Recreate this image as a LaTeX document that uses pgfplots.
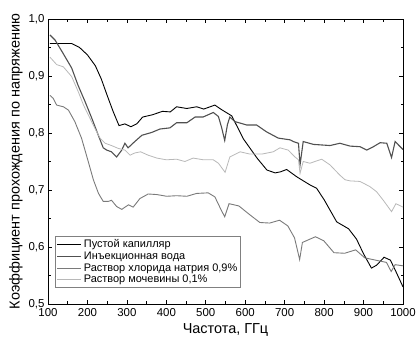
\documentclass[border=0pt]{standalone}
\usepackage{fontspec}
\setmainfont{Liberation Sans}
\usepackage{pgfplots}
\pgfplotsset{compat=1.18}
\definecolor{cdark}{HTML}{505050}
\definecolor{cmid}{HTML}{7A7A7A}
\definecolor{clight}{HTML}{B8B8B8}
\begin{document}
\begin{tikzpicture}
\useasboundingbox (-48bp,-40bp) rectangle (370bp,304bp);
\begin{axis}[
  scale only axis,
  width=355bp, height=285bp,
  xmin=100, xmax=1000, ymin=0.5, ymax=1.0,
  xtick={100,200,...,1000},
  minor xtick={150,250,...,950},
  ytick={0.5,0.6,...,1.01},
  minor ytick={0.55,0.65,...,0.96},
  tick align=inside,
  major tick length=4bp, minor tick length=2.5bp,
  tick style={black, line width=0.6pt},
  axis line style={line width=0.7pt},
  /pgf/number format/assume math mode=true,
  yticklabel style={/pgf/number format/.cd, use comma, fixed, fixed zerofill, precision=1},
  xticklabel style={yshift=-1bp, /pgf/number format/.cd, fixed, 1000 sep={}},
  ticklabel style={font=\fontsize{11.5}{13}\selectfont},
  xlabel={Частота, ГГц},
  ylabel={Коэффициент прохождения по напряжению},
  label style={font=\fontsize{14.5}{16}\selectfont},
  ylabel style={yshift=-1bp},
  legend style={at={(0.0197,0.056)}, anchor=south west, draw=gray, line width=0.6pt,
    font=\fontsize{11}{12}\selectfont, row sep=-1.5bp, inner sep=1.5bp},
  legend cell align=left,
  legend image code/.code={\draw[#1] (0bp,0bp) -- (24bp,0bp);},
]
\addplot[black, line width=0.9pt] coordinates {
(105,0.957) (160,0.957) (180,0.950) (200,0.937) (220,0.918) (235,0.895) (250,0.866) (265,0.838) (280,0.813) (295,0.816) (310,0.811) (325,0.816) (340,0.828) (365,0.832) (390,0.838) (410,0.837) (426,0.846) (452,0.843) (477,0.846) (495,0.842) (523,0.849) (540,0.841) (566,0.830) (595,0.790) (630,0.756) (655,0.735) (676,0.730) (690,0.732) (705,0.736) (731,0.723) (764,0.709) (781,0.703) (800,0.683) (832,0.644) (862,0.632) (882,0.614) (900,0.588) (920,0.563) (933,0.568) (952,0.582) (968,0.577) (982,0.557) (1000,0.530)
};
\addlegendentry{Пустой капилляр}
\addplot[cdark, line width=1.1pt] coordinates {
(105,0.972) (118,0.963) (138,0.940) (160,0.914) (176,0.884) (194,0.855) (211,0.826) (227,0.797) (240,0.774) (249,0.770) (261,0.767) (274,0.758) (287,0.770) (295,0.782) (303,0.774) (320,0.785) (338,0.796) (363,0.801) (384,0.807) (409,0.809) (426,0.818) (452,0.818) (473,0.828) (493,0.828) (519,0.836) (532,0.829) (540,0.810) (548,0.787) (555,0.815) (561,0.828) (574,0.820) (604,0.814) (629,0.814) (654,0.802) (684,0.791) (714,0.788) (722,0.785) (735,0.782) (739,0.744) (747,0.785) (773,0.780) (815,0.778) (840,0.782) (866,0.777) (891,0.776) (908,0.770) (925,0.776) (942,0.783) (959,0.782) (971,0.757) (980,0.785) (1000,0.771)
};
\addlegendentry{Инъекционная вода}
\addplot[cmid, line width=0.9pt] coordinates {
(105,0.866) (113,0.861) (122,0.849) (139,0.846) (152,0.840) (168,0.820) (185,0.791) (202,0.750) (215,0.718) (228,0.694) (240,0.680) (253,0.680) (261,0.682) (274,0.671) (287,0.666) (304,0.674) (316,0.670) (333,0.685) (354,0.693) (376,0.692) (401,0.689) (426,0.690) (452,0.689) (477,0.694) (506,0.695) (523,0.688) (539,0.665) (548,0.653) (559,0.676) (584,0.672) (609,0.658) (637,0.643) (662,0.642) (687,0.647) (708,0.637) (725,0.616) (738,0.578) (745,0.608) (778,0.618) (799,0.611) (825,0.590) (852,0.589) (880,0.595) (903,0.581) (930,0.577) (958,0.573) (970,0.557) (980,0.569) (1000,0.567)
};
\addlegendentry{Раствор хлорида натрия 0,9\%}
\addplot[clight, line width=0.8pt] coordinates {
(105,0.933) (122,0.920) (139,0.916) (160,0.899) (177,0.872) (190,0.849) (202,0.832) (219,0.808) (232,0.791) (245,0.782) (261,0.778) (278,0.773) (295,0.770) (308,0.761) (320,0.765) (335,0.767) (354,0.761) (376,0.756) (400,0.753) (426,0.754) (447,0.750) (468,0.756) (494,0.753) (519,0.753) (532,0.747) (549,0.731) (561,0.758) (587,0.767) (612,0.763) (642,0.763) (671,0.767) (688,0.774) (709,0.770) (726,0.758) (735,0.753) (739,0.729) (747,0.750) (764,0.747) (794,0.754) (815,0.744) (840,0.726) (853,0.718) (866,0.716) (891,0.715) (916,0.706) (933,0.697) (950,0.682) (971,0.662) (982,0.676) (1000,0.670)
};
\addlegendentry{Раствор мочевины 0,1\%}
\end{axis}
\end{tikzpicture}
\end{document}
